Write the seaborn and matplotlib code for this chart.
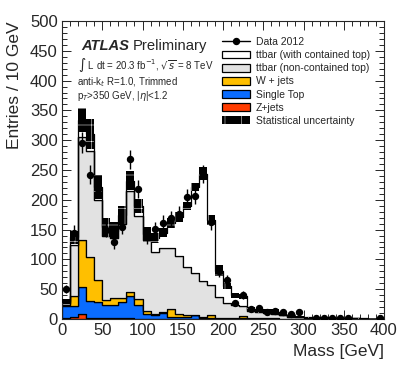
import numpy as np
import pandas as pd
import matplotlib.pyplot as plt
import seaborn as sns
from matplotlib.patches import Patch
from matplotlib.lines import Line2D
from matplotlib.ticker import MultipleLocator

sns.set_style("ticks")
plt.rcParams['font.family'] = ['Liberation Sans', 'DejaVu Sans']
plt.rcParams['hatch.linewidth'] = 0.35

# 10 GeV bins from 0 to 400 GeV
edges = np.arange(0, 410, 10)
centers = edges[:-1] + 5

# stacked MC contributions per bin
z_jets = [1, 3, 8, 2, 1, 1, 1, 1, 1, 0,
          0, 0, 0, 0, 0, 0, 0, 0, 0, 0,
          0, 0, 0, 0, 0, 0, 0, 0, 0, 0,
          0, 0, 0, 0, 0, 0, 0, 0, 0, 0]
single_top = [20, 18, 45, 28, 27, 22, 22, 27, 37, 24,
              8, 6, 10, 4, 4, 3, 7, 2, 1, 1,
              1, 1, 1, 1, 0, 0, 0, 0, 0, 0,
              0, 0, 0, 0, 0, 0, 0, 0, 0, 0]
w_jets = [3, 17, 79, 74, 37, 9, 12, 7, 7, 9,
          5, 2, 1, 13, 4, 3, 0, 1, 5, 1,
          1, 1, 4, 0, 1, 1, 1, 0, 0, 0,
          0, 0, 0, 0, 0, 0, 0, 0, 0, 0]
ttbar_nc = [3, 86, 173, 178, 135, 108, 101, 125, 169, 139,
            119, 105, 108, 102, 97, 82, 70, 61, 51, 35,
            25, 22, 17, 13, 11, 9, 7, 6, 4, 3,
            2, 2, 1, 1, 1, 1, 1, 0, 0, 0]
ttbar_c = [3, 13, 29, 28, 22, 14, 12, 15, 18, 18,
           10, 23, 26, 42, 66, 102, 144, 180, 109, 44,
           29, 16, 16, 2, 1, 2, 4, 1, 1, 1,
           1, 0, 1, 1, 0, 0, 0, 1, 0, 1]
stat_err = [3, 11, 20, 25, 20, 16, 14, 15, 16, 12,
            12, 9, 8, 9, 9, 7, 7, 11, 8, 9,
            5, 4, 4, 4, 3, 4, 5, 1, 1, 1,
            1, 1, 1, 1, 1, 1, 1, 1, 0, 1]
data_2012 = [50, 145, 296, 242, 218, 150, 129, 155, 268, 218,
             138, 151, 161, 169, 177, 204, 207, 243, 162, 80,
             65, 27, 40, 17, 19, 11, 13, 11, 9, 12,
             0, 1, 1, 2, 1, 1, 0, 0, 0, 1]

samples = {
    "ttbar (with contained top)": ttbar_c,
    "ttbar (non-contained top)": ttbar_nc,
    "W + jets": w_jets,
    "Single Top": single_top,
    "Z+jets": z_jets,
}
colors = {
    "ttbar (with contained top)": "white",
    "ttbar (non-contained top)": "#e2e2e2",
    "W + jets": "#ffbf00",
    "Single Top": "#0a6cff",
    "Z+jets": "#ff3c00",
}

df = pd.concat([pd.DataFrame({"mass": centers, "entries": v, "sample": k})
                for k, v in samples.items()], ignore_index=True)

fig = plt.figure(figsize=(4.06, 3.81), dpi=100)
ax = fig.add_axes([62 / 406, 1 - 319 / 381, 322 / 406, 298 / 381])

sns.histplot(data=df, x="mass", weights="entries", hue="sample",
             hue_order=list(samples), palette=colors, multiple="stack",
             binwidth=10, binrange=(0, 400), element="step", alpha=1,
             edgecolor="black", linewidth=0.9, legend=False, ax=ax)

total = df.groupby("mass")["entries"].sum().values
err = np.array(stat_err)
ax.bar(centers, 2 * err, bottom=total - err, width=10, color="black",
       edgecolor="white", hatch="+", linewidth=0, zorder=3)

data = np.array(data_2012, dtype=float)
m = data > 0
ax.errorbar(centers[m], data[m], yerr=np.sqrt(data[m]), fmt="o", color="black",
            ms=4.3, lw=1, capsize=0, zorder=4)

ax.set_xlim(0, 400)
ax.set_ylim(0, 500)
ax.xaxis.set_major_locator(MultipleLocator(50))
ax.xaxis.set_minor_locator(MultipleLocator(10))
ax.yaxis.set_major_locator(MultipleLocator(50))
ax.yaxis.set_minor_locator(MultipleLocator(10))
ax.tick_params(which="both", direction="in", top=True, right=True, labelsize=12, width=0.7, pad=3)
ax.tick_params(which="major", length=6.5)
ax.tick_params(which="minor", length=3.3)
for s in ax.spines.values():
    s.set_linewidth(0.8)

ax.set_xlabel("Mass [GeV]", loc="right", fontsize=12.5)
ax.set_ylabel("Entries / 10 GeV", loc="top", fontsize=12.5)
ax.xaxis.set_label_coords(1.0, -0.085)
ax.yaxis.set_label_coords(-0.125, 1.0)

fig.text(81 / 406, 1 - 50 / 381, "ATLAS", fontsize=10.6, fontweight="bold", style="italic")
fig.text(133 / 406, 1 - 50 / 381, "Preliminary", fontsize=10.6)
fig.text(78 / 406, 1 - 69 / 381, r"$\int$ L dt = 20.3 fb$^{-1}$, $\sqrt{s}$ = 8 TeV", fontsize=7)
fig.text(77 / 406, 1 - 85 / 381, r"anti-k$_{t}$ R=1.0, Trimmed", fontsize=7)
fig.text(77 / 406, 1 - 99 / 381, r"p$_{T}$>350 GeV, |$\eta$|<1.2", fontsize=7)

handles = [Line2D([0], [0], color="black", marker="o", ms=4.3, lw=1)]
handles += [Patch(facecolor=colors[k], edgecolor="black", linewidth=0.9) for k in samples]
handles += [Patch(facecolor="black", edgecolor="white", hatch="+", linewidth=0)]
labels = ["Data 2012"] + list(samples) + ["Statistical uncertainty"]
fig.legend(handles, labels, loc="upper left", bbox_to_anchor=(222 / 406, 1 - 37 / 381),
           frameon=False, fontsize=7.5, borderpad=0, borderaxespad=0, labelspacing=0.3,
           handlelength=2.7, handleheight=0.8, handletextpad=0.55)

fig.savefig("out.png", dpi=100)
